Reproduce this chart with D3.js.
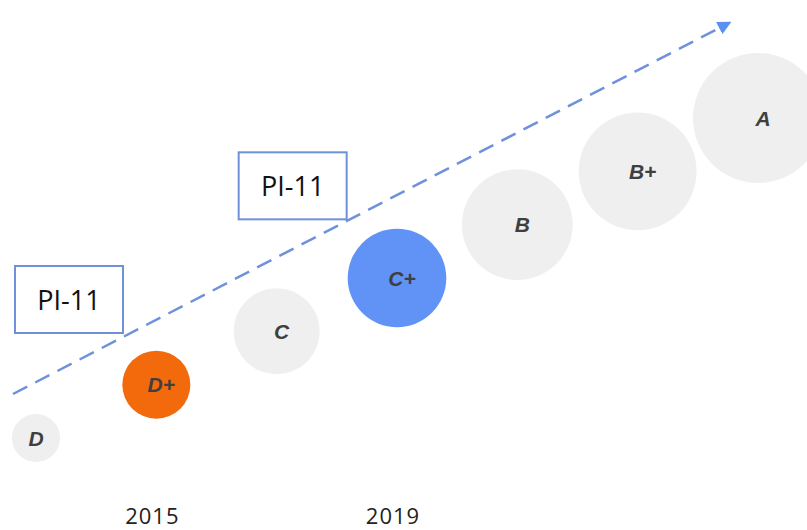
<!DOCTYPE html>
<html>
<head>
<meta charset="utf-8">
<script src="https://cdn.jsdelivr.net/npm/d3@7"></script>
<style>
  body { margin: 0; background: #fff; }
  svg { display: block; }
</style>
</head>
<body>
<div class="chart"></div>
<script>
const grades = ['D', 'D+', 'C', 'C+', 'B', 'B+', 'A']
const levels = [1, 2, 3.2, 4.2, 5.3, 6, 7.3]
const fills = ['#efefef', '#f36a0d', '#efefef', '#6192f6', '#efefef', '#efefef', '#efefef']
const years = ['2015', '2019']
const yearGrades = ['D+', 'C+']
const notes = ['PI-11', 'PI-11']
const noteGrades = ['D', 'C']

const width = 807
const height = 530
const BLUE = '#6e90dd'

const svg = d3.select('.chart').append('svg')
  .attr('width', width)
  .attr('height', height)

const x = d3.scalePoint().domain(grades).range([36, 758])
const y = d3.scalePoint().domain(grades).range([438, 118])
const r = d3.scaleSqrt().domain([0, d3.max(levels)]).range([0, 65])

const data = grades.map((g, i) => ({ grade: g, level: levels[i], fill: fills[i] }))

svg.append('defs').append('marker')
  .attr('id', 'arrow')
  .attr('viewBox', '0 0 10 10')
  .attr('refX', 8)
  .attr('refY', 5)
  .attr('markerWidth', 5.5)
  .attr('markerHeight', 5.5)
  .attr('markerUnits', 'strokeWidth')
  .attr('orient', 'auto')
  .append('path')
  .attr('d', 'M0,0 L10,5 L0,10 z')
  .attr('fill', '#5b8ff0')

// trend arrow
svg.append('line')
  .attr('x1', 13)
  .attr('y1', 394)
  .attr('x2', 729)
  .attr('y2', 23)
  .attr('stroke', BLUE)
  .attr('stroke-width', 2.5)
  .attr('stroke-dasharray', '16 9')
  .attr('marker-end', 'url(#arrow)')

// bubbles
const g = svg.append('g')
g.selectAll('circle').data(data).enter().append('circle')
  .attr('cx', d => x(d.grade))
  .attr('cy', d => y(d.grade))
  .attr('r', d => r(d.level))
  .attr('fill', d => d.fill)

g.selectAll('text').data(data).enter().append('text')
  .attr('x', d => x(d.grade) + (d.grade === 'D' ? 0 : 5))
  .attr('y', d => y(d.grade))
  .attr('dy', '0.36em')
  .attr('text-anchor', 'middle')
  .attr('font-family', 'Liberation Sans, Arial, sans-serif')
  .attr('font-weight', 'bold')
  .attr('font-style', 'italic')
  .attr('font-size', 21)
  .attr('fill', '#3f3f3f')
  .text(d => d.grade)

// note boxes
const noteOffset = [{ dx: -21, dy: -172 }, { dx: -38, dy: -179 }]
const boxes = svg.selectAll('g.note').data(notes).enter().append('g')
  .attr('class', 'note')
  .attr('transform', (d, i) => `translate(${x(noteGrades[i]) + noteOffset[i].dx}, ${y(noteGrades[i]) + noteOffset[i].dy})`)

boxes.append('rect')
  .attr('width', 108)
  .attr('height', 67)
  .attr('fill', '#fff')
  .attr('stroke', BLUE)
  .attr('stroke-width', 2)

boxes.append('text')
  .attr('x', 54)
  .attr('y', 34)
  .attr('dy', '0.36em')
  .attr('text-anchor', 'middle')
  .attr('font-family', 'Open Sans, sans-serif')
  .attr('font-size', 27)
  .attr('fill', '#111')
  .text(d => d)

// year labels
svg.selectAll('text.year').data(years).enter().append('text')
  .attr('class', 'year')
  .attr('x', (d, i) => x(yearGrades[i]) - 4)
  .attr('y', 524)
  .attr('text-anchor', 'middle')
  .attr('font-family', 'Open Sans, sans-serif')
  .attr('font-size', 22)
  .attr('letter-spacing', 1)
  .attr('fill', '#222')
  .text(d => d)
</script>
</body>
</html>
